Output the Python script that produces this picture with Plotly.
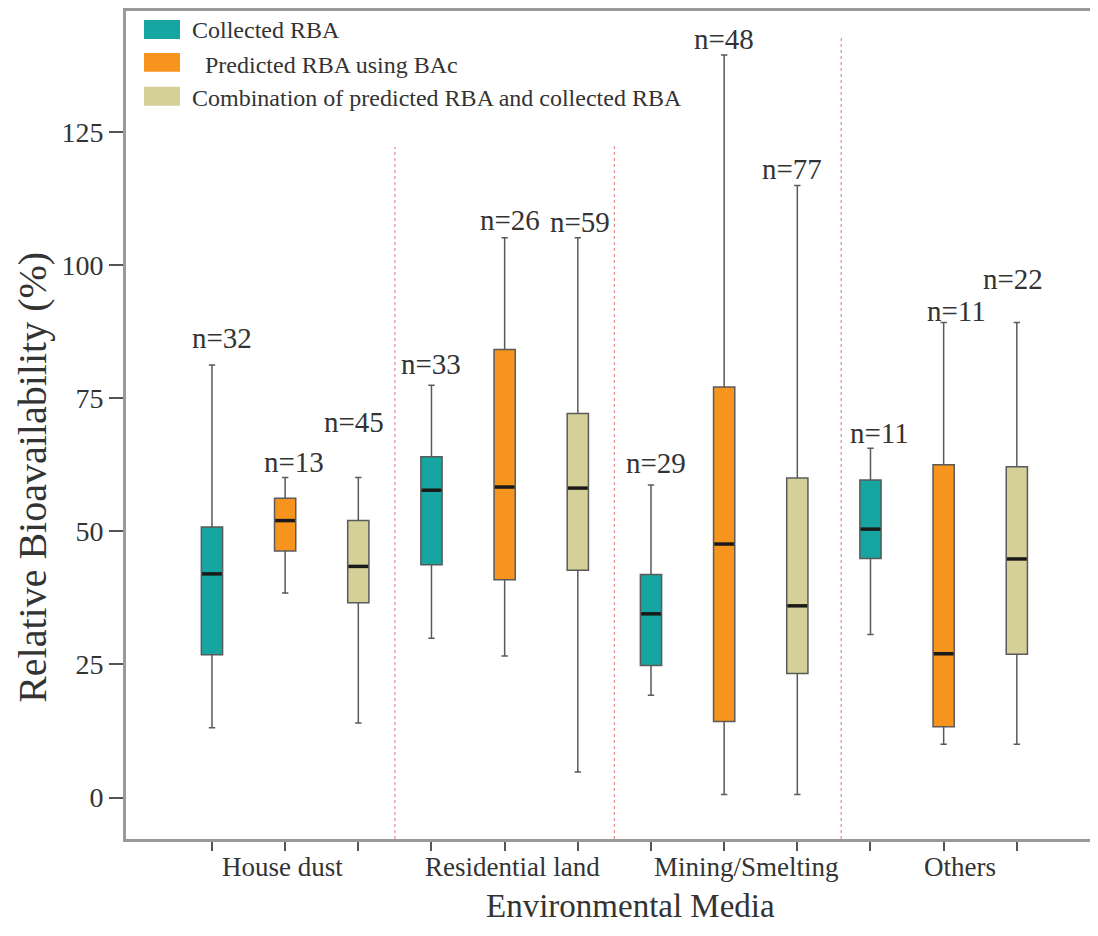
import plotly.graph_objects as go

# ---------------- data ----------------
categories = ["House dust", "Residential land", "Mining/Smelting", "Others"]
series_names = ["Collected RBA", "Predicted RBA using BAc",
                "Combination of predicted RBA and collected RBA"]

collected_low = [13.1, 29.9, 19.2, 30.6]
collected_q1 = [26.8, 43.7, 24.8, 44.9]
collected_median = [42.0, 57.7, 34.5, 50.4]
collected_q3 = [50.8, 64.0, 41.9, 59.6]
collected_high = [81.2, 77.4, 58.7, 65.6]
collected_n = [32, 33, 29, 11]

predicted_low = [38.4, 26.6, 0.6, 10.0]
predicted_q1 = [46.3, 40.9, 14.3, 13.3]
predicted_median = [52.0, 58.3, 47.6, 27.0]
predicted_q3 = [56.2, 84.1, 77.1, 62.5]
predicted_high = [60.1, 105.1, 139.4, 89.2]
predicted_n = [13, 26, 48, 11]

combined_low = [14.0, 4.8, 0.6, 10.0]
combined_q1 = [36.6, 42.7, 23.3, 26.9]
combined_median = [43.4, 58.1, 36.0, 44.8]
combined_q3 = [52.0, 72.1, 60.0, 62.1]
combined_high = [60.1, 105.1, 114.9, 89.2]
combined_n = [45, 59, 77, 22]

y_ticks = [0, 25, 50, 75, 100, 125]

# ---------------- styling ----------------
FONT = "Liberation Serif, Times New Roman, serif"
colors = ["#17a5a1", "#f7941e", "#d4d097"]
series = [
    (collected_low, collected_q1, collected_median, collected_q3, collected_high, collected_n),
    (predicted_low, predicted_q1, predicted_median, predicted_q3, predicted_high, predicted_n),
    (combined_low, combined_q1, combined_median, combined_q3, combined_high, combined_n),
]
# label offsets (px) for the n= annotations, per box in drawing order
label_yshift = [[27, 21, 22, 15], [15, 18, 16, 11], [55, 16, 17, 43]]
label_xshift = [[10, 0, 5, 9], [9, 5, 0, 13], [-4, 2, -5, -4]]

BOX_W = 0.29
PAGE_OFF = 8  # default body margin of the html page
W, H = 1082, 920
ML, MR, MT, MB = 118, 0, 1, 89
PW, PH = W - ML - MR, H - MT - MB


def px_x(px):
    return (px - PAGE_OFF - ML) / PW


def px_y(py):
    return (H - MB - (py - PAGE_OFF)) / PH


fig = go.Figure()
positions = []
for s, (lo, q1, med, q3, hi, ns) in enumerate(series):
    for g in range(len(categories)):
        pos = 3 * g + s
        positions.append(pos)
        fig.add_trace(go.Box(
            x=[pos], q1=[q1[g]], median=[med[g]], q3=[q3[g]],
            lowerfence=[lo[g]], upperfence=[hi[g]],
            width=BOX_W, whiskerwidth=0.3, boxpoints=False,
            fillcolor=colors[s], line=dict(color="#5a5a5a", width=1.5),
            showlegend=False, hoverinfo="skip",
        ))
        fig.add_trace(go.Scatter(
            x=[pos - BOX_W / 2 + 0.01, pos + BOX_W / 2 - 0.01], y=[med[g], med[g]],
            mode="lines", line=dict(color="#1a1a1a", width=3.5),
            showlegend=False, hoverinfo="skip",
        ))
        fig.add_annotation(
            x=pos, y=hi[g], xref="x", yref="y", text=f"n={ns[g]}",
            showarrow=False, yanchor="middle",
            yshift=label_yshift[s][g], xshift=label_xshift[s][g],
            font=dict(family=FONT, size=29, color="#333333"),
        )

y_max = 147.66
y_min = -7.77
# group dividers
for xd, ytop in [(2.5, 122.2), (5.5, 122.5), (8.6, 142.8)]:
    fig.add_shape(type="line", xref="x", yref="y", x0=xd, x1=xd, y0=y_min, y1=ytop,
                  line=dict(color="#e58a8a", width=1.2, dash="dot"))

# category labels
for cat, xc in zip(categories, [0.97, 4.11, 7.30, 10.22]):
    fig.add_annotation(x=xc, y=px_y(867), xref="x", yref="paper", text=cat,
                       showarrow=False, yanchor="middle",
                       font=dict(family=FONT, size=27, color="#333333"))

# axis titles
fig.add_annotation(x=px_x(630), y=px_y(906.5), xref="paper", yref="paper",
                   text="Environmental Media", showarrow=False, yanchor="middle",
                   font=dict(family=FONT, size=33, color="#333333"))
fig.add_annotation(x=px_x(33), y=px_y(477), xref="paper", yref="paper",
                   text="Relative Bioavailability (%)", showarrow=False,
                   textangle=-90, xanchor="center", yanchor="middle",
                   font=dict(family=FONT, size=40, color="#333333"))

# custom legend
leg_rows = [(18, 37, 28, 190), (51, 70, 63, 203), (85, 104, 96, 190)]
for (t, b, yc, tx), name, col in zip(leg_rows, series_names, colors):
    fig.add_shape(type="rect", xref="paper", yref="paper",
                  x0=px_x(144), x1=px_x(180), y0=px_y(b), y1=px_y(t),
                  fillcolor=col, line=dict(width=0))
    fig.add_annotation(x=px_x(tx), y=px_y(yc), xref="paper", yref="paper",
                       text=name, showarrow=False, xanchor="left", yanchor="middle",
                       font=dict(family=FONT, size=24, color="#333333"))

fig.update_layout(
    width=W, height=H,
    margin=dict(l=ML, r=MR, t=MT, b=MB),
    paper_bgcolor="white", plot_bgcolor="white",
    boxmode="overlay", showlegend=False,
    xaxis=dict(range=[-1.175, 12.0], tickvals=positions, ticktext=[""] * len(positions),
               ticks="outside", ticklen=9, tickwidth=2, tickcolor="#555555",
               showgrid=False, zeroline=False, showline=True, linecolor="#999999",
               linewidth=3, mirror=True),
    yaxis=dict(range=[y_min, y_max], tickvals=y_ticks, ticks="outside", ticklen=14,
               tickwidth=2, tickcolor="#555555", showgrid=False, zeroline=False,
               showline=True, linecolor="#999999", linewidth=3,
               tickfont=dict(family=FONT, size=28, color="#333333")),
)

fig.write_html("out.html")
